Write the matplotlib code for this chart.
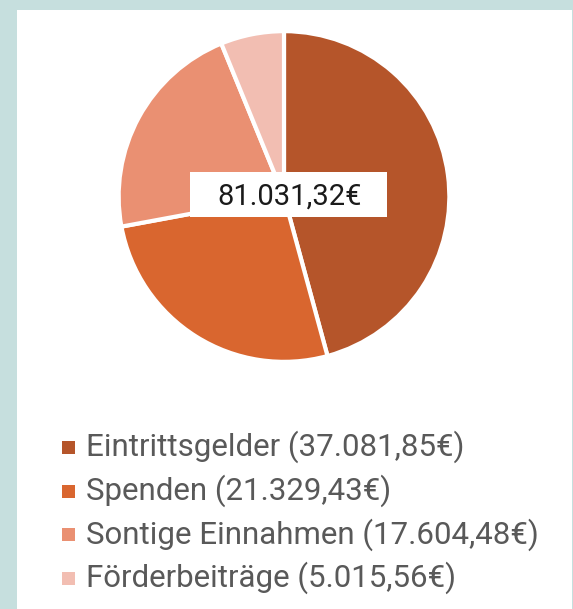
import matplotlib
matplotlib.use("Agg")
import matplotlib.pyplot as plt
from matplotlib.patches import Rectangle

categories = ["Eintrittsgelder", "Spenden", "Sontige Einnahmen", "Förderbeiträge"]
values = [37081.85, 21329.43, 17604.48, 5015.56]
value_labels = ["37.081,85€", "21.329,43€", "17.604,48€", "5.015,56€"]
total_label = "81.031,32€"
colors = ["#B5552A", "#D9662F", "#EA9072", "#F2BEB2"]

W, H = 573, 609
fig = plt.figure(figsize=(W / 100, H / 100), dpi=100)
fig.patch.set_facecolor("#C6DFDE")

def fx(px):
    return px / W

def fy(py):
    return 1 - py / H

# white panel
fig.patches.append(Rectangle((fx(17), 0), fx(572) - fx(17), fy(10), transform=fig.transFigure,
                             facecolor="white", edgecolor="none", zorder=-10))

cx, cy, r = 284, 196.5, 167
ax = fig.add_axes([fx(cx - r), fy(cy + r), 2 * r / W, 2 * r / H])
ax.set_zorder(1)
ax.pie(values, colors=colors, startangle=90, counterclock=False,
       wedgeprops=dict(edgecolor="white", linewidth=3), radius=1)
ax.set_xlim(-1.01, 1.01)
ax.set_ylim(-1.01, 1.01)
ax.set_aspect("equal")
ax.axis("off")

# total label box
bx0, bx1, by0, by1 = 190, 387, 172, 217
fig.patches.append(Rectangle((fx(bx0), fy(by1)), fx(bx1) - fx(bx0), fy(by0) - fy(by1),
                             transform=fig.transFigure, facecolor="white", edgecolor="none", zorder=5))
fig.text(fx(290), fy(197), total_label, ha="center", va="center", fontsize=21,
         family="Roboto", color="#1a1a1a", zorder=6)

# legend
y0, dy = 447, 43.7
for i, (cat, vl, c) in enumerate(zip(categories, value_labels, colors)):
    y = y0 + i * dy
    fig.patches.append(Rectangle((fx(62), fy(y + 7)), 13 / W, 13 / H, transform=fig.transFigure,
                                 facecolor=c, edgecolor="none"))
    fig.text(fx(86), fy(y), f"{cat} ({vl})", ha="left", va="center", fontsize=22.5,
             family="Roboto", color="#595959")

fig.savefig("out.png", dpi=100)
